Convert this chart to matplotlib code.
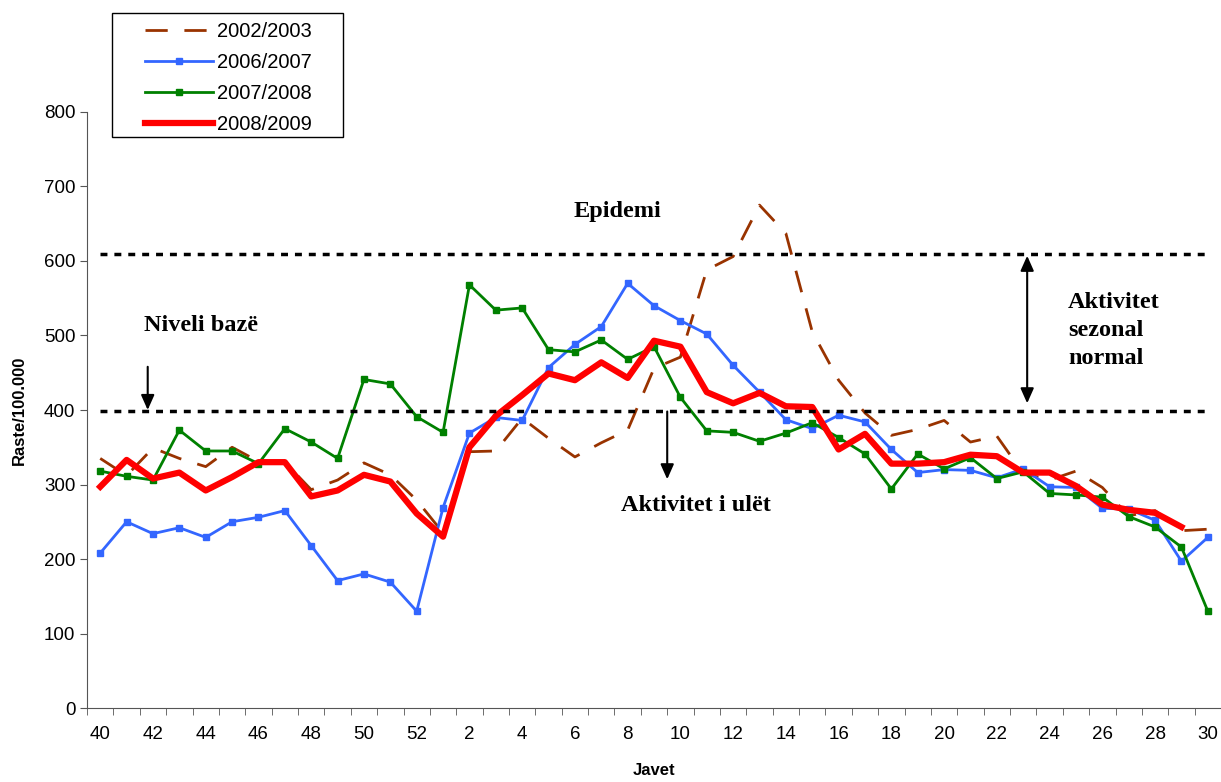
import numpy as np
import matplotlib
matplotlib.use("Agg")
import matplotlib.pyplot as plt
from matplotlib.patches import Rectangle

# week numbers on the x axis (season runs week 40 -> week 30)
weeks = list(range(40, 53)) + list(range(1, 31))

s0203 = [335, 312, 349, 335, 324, 350, 331, 330, 293, 306, 329, 313, 279, 235,
         344, 345, 389, 362, 337, 356, 373, 456, 471, 588, 606, 675, 637, 505,
         440, 396, 366, 374, 386, 357, 365, 315, 306, 318, 296, 258, 265, 238, 240]
s0607 = [208, 250, 234, 242, 229, 250, 256, 265, 218, 171, 180, 169, 130, 269,
         369, 390, 386, 457, 488, 512, 570, 540, 520, 502, 460, 424, 387, 375,
         393, 384, 347, 316, 320, 319, 309, 321, 297, 296, 268, 267, 252, 197, 229]
s0708 = [318, 311, 306, 373, 345, 345, 328, 375, 357, 335, 441, 435, 391, 370,
         568, 534, 537, 481, 478, 494, 468, 485, 417, 372, 370, 358, 369, 383,
         363, 341, 294, 341, 321, 336, 308, 317, 288, 286, 283, 257, 243, 216, 130]
s0809 = [297, 333, 308, 316, 292, 310, 330, 330, 284, 292, 313, 304, 261, 230,
         350, 392, 420, 449, 440, 464, 443, 493, 485, 424, 409, 423, 405, 404,
         347, 368, 328, 328, 330, 340, 338, 316, 316, 298, 273, 266, 262, 243, np.nan]

epidemic_level = 609
base_level = 398

plt.rcParams["font.family"] = ["Liberation Sans", "DejaVu Sans"]
serif = ["Liberation Serif", "DejaVu Serif"]

W, H = 1221, 782
fig = plt.figure(figsize=(W / 100, H / 100), dpi=100)
ax = fig.add_axes([0.0713, 0.0946, 0.9287, 0.7622])
x = np.arange(len(weeks))

ax.plot(x, s0203, color="#993300", lw=2, dashes=(8, 6), label="2002/2003")
ax.plot(x, s0607, color="#3366FF", lw=2, marker="s", ms=5, label="2006/2007")
ax.plot(x, s0708, color="#008000", lw=2, marker="s", ms=5, label="2007/2008")
ax.plot(x, s0809, color="#FF0000", lw=4.5, label="2008/2009")

ax.hlines([epidemic_level, base_level], 0, len(weeks) - 1, colors="black",
          lw=2.5, linestyles=(0, (2, 2)))

ax.set_xlim(-0.5, len(weeks) - 0.5)
ax.set_ylim(0, 800)
ax.set_yticks(range(0, 801, 100))
ax.set_xticks(x[::2])
ax.set_xticklabels([str(w) for w in weeks[::2]])
ax.set_xticks(np.arange(-0.5, len(weeks), 1), minor=True)
ax.tick_params(axis="x", which="major", length=0, pad=13, labelsize=13.5)
ax.tick_params(axis="x", which="minor", length=5, direction="out", color="#555555")
ax.tick_params(axis="y", length=5, direction="out", labelsize=13.5, color="#555555")
for s in ("top", "right"):
    ax.spines[s].set_visible(False)
for s in ("left", "bottom"):
    ax.spines[s].set_color("#555555")

ax.set_ylabel("Raste/100.000", fontsize=12, fontweight="bold",
              family=["Liberation Sans Narrow", "Liberation Sans"], labelpad=12)
ax.set_xlabel("Javet", fontsize=12, fontweight="bold",
              family=["Liberation Sans Narrow", "Liberation Sans"], labelpad=14)

tkw = dict(family=serif, fontweight="bold", fontsize=17.5)
ax.text(19.6, 666, "Epidemi", ha="center", va="center", **tkw)
ax.text(3.83, 514, "Niveli bazë", ha="center", va="center", **tkw)
ax.text(22.6, 272, "Aktivitet i ulët", ha="center", va="center", **tkw)
ax.text(36.7, 507, "Aktivitet\nsezonal\nnormal", ha="left", va="center",
        linespacing=1.42, **tkw)

akw = dict(arrowstyle="-|>,head_width=0.4,head_length=0.9", color="black", lw=1.5,
           shrinkA=0, shrinkB=0)
ax.annotate("", xy=(1.8, 400), xytext=(1.8, 458), arrowprops=akw)
ax.annotate("", xy=(21.5, 307), xytext=(21.5, 398), arrowprops=akw)
ax.annotate("", xy=(35.15, 607), xytext=(35.15, 409),
            arrowprops=dict(arrowstyle="<|-|>,head_width=0.4,head_length=0.9",
                            color="black", lw=1.5, shrinkA=0, shrinkB=0))

# legend sits above the plot, framed by a plain box
ax.legend(loc="upper left", bbox_to_anchor=(145 / W, 1 - 22 / H),
          bbox_transform=fig.transFigure, borderaxespad=0, borderpad=0,
          frameon=False, fontsize=14.5, handlelength=3.4,
          labelspacing=0.6, handletextpad=0.2)
fig.patches.append(Rectangle((112 / W, 1 - 137 / H), 231 / W, 124 / H,
                             transform=fig.transFigure, fill=False,
                             edgecolor="black", lw=1))

fig.savefig("out.png", dpi=100)
